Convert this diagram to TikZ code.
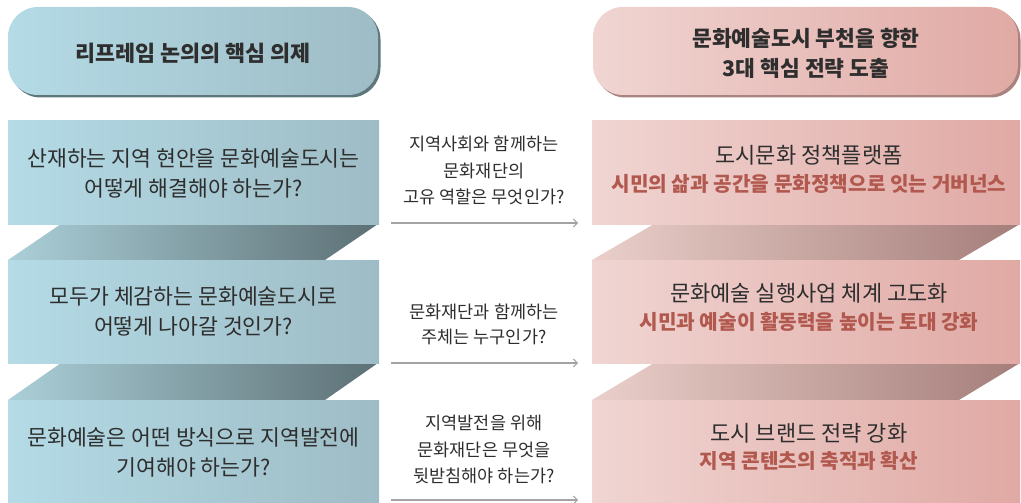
\documentclass[tikz,border=0pt]{standalone}
\usepackage{fontspec}
\setmainfont{Noto Sans CJK KR}
\usetikzlibrary{arrows.meta}
\definecolor{bL}{HTML}{B4DBE6}
\definecolor{bR}{HTML}{9EBCC5}
\definecolor{bfL}{HTML}{ABCFD8}
\definecolor{bfR}{HTML}{5C7075}
\definecolor{bsh}{HTML}{5E767C}
\definecolor{pL}{HTML}{F0D5D2}
\definecolor{pR}{HTML}{E0A9A4}
\definecolor{pfL}{HTML}{EACFCA}
\definecolor{pfR}{HTML}{A57E7A}
\definecolor{psh}{HTML}{A8837F}
\definecolor{txt}{HTML}{2E2E2E}
\definecolor{redtxt}{HTML}{B2594F}
\definecolor{arr}{HTML}{A3A3A3}
\begin{document}
\begin{tikzpicture}[x=1pt,y=-1pt,
  lbox/.style={rectangle,inner sep=0pt,minimum width=371pt,minimum height=104pt,left color=bL,right color=bR},
  rbox/.style={rectangle,inner sep=0pt,minimum width=428pt,minimum height=104pt,left color=pL,right color=pR},
  bigtxt/.style={align=center,text=txt,font=\fontsize{21.6}{30}\selectfont},
  midtxt/.style={align=center,text=txt,font=\fontsize{17.5}{26.7}\selectfont},
  redline/.style={text=redtxt,font=\fontsize{20.2}{28}\selectfont\bfseries},
  blkline/.style={text=txt,font=\fontsize{22}{28}\selectfont},
  flow/.style={draw=arr,line width=1.3pt,-{Straight Barb[length=4pt,width=8pt,line width=1pt]}}
]
\useasboundingbox (0,0) rectangle (1021,503);

% headers
\fill[bsh,rounded corners=30pt] (10.5,9.5) rectangle (380.5,97.5);
\node[rectangle,rounded corners=30pt,inner sep=0pt,minimum width=370pt,minimum height=88pt,left color=bL,right color=bR] (hl) at (193,51) {};
\node[text=txt,font=\fontsize{21.8}{30}\selectfont\bfseries] (hlt) at (193,53) {리프레임 논의의 핵심 의제};

\fill[psh,rounded corners=30pt] (595.5,9.5) rectangle (1020.5,97.5);
\node[rectangle,rounded corners=30pt,inner sep=0pt,minimum width=425pt,minimum height=88pt,left color=pL,right color=pR] (hr) at (805.5,51) {};
\node[align=center,text=txt,font=\fontsize{21.5}{30}\selectfont\bfseries] (hrt) at (806,53) {문화예술도시 부천을 향한\\3대 핵심 전략 도출};

% folds
\shade[left color=bfL,right color=bfR] (61,224) -- (378,224) -- (325,260) -- (8,260) -- cycle;
\shade[left color=bfL,right color=bfR] (61,363) -- (378,363) -- (325,400) -- (8,400) -- cycle;
\shade[left color=pfL,right color=pfR] (654,224) -- (1020,224) -- (959,260) -- (592,260) -- cycle;
\shade[left color=pfL,right color=pfR] (654,363) -- (1020,363) -- (959,400) -- (592,400) -- cycle;

% left boxes
\node[lbox] (l1) at (193.5,172) {};
\node[lbox,minimum height=103pt] (l2) at (193.5,311.5) {};
\node[lbox,minimum height=103pt] (l3) at (193.5,451.5) {};
\node[bigtxt] (l1t) at (193.5,173) {산재하는 지역 현안을 문화예술도시는\\어떻게 해결해야 하는가?};
\node[bigtxt] (l2t) at (193.5,311.5) {모두가 체감하는 문화예술도시로\\어떻게 나아갈 것인가?};
\node[bigtxt] (l3t) at (193.5,452) {문화예술은 어떤 방식으로 지역발전에\\기여해야 하는가?};

% right boxes
\node[rbox] (r1) at (806,172) {};
\node[rbox,minimum height=103pt] (r2) at (806,311.5) {};
\node[rbox,minimum height=103pt] (r3) at (806,451.5) {};
\node[blkline] (r1a) at (809,155) {도시문화 정책플랫폼};
\node[redline] (r1b) at (809,184) {시민의 삶과 공간을 문화정책으로 잇는 거버넌스};
\node[blkline] (r2a) at (809,293) {문화예술 실행사업 체계 고도화};
\node[redline] (r2b) at (809,322) {시민과 예술이 활동력을 높이는 토대 강화};
\node[blkline] (r3a) at (809,433) {도시 브랜드 전략 강화};
\node[redline] (r3b) at (809,461) {지역 콘텐츠의 축적과 확산};

% middle questions
\node[midtxt] (m1) at (484,170.5) {지역사회와 함께하는\\문화재단의\\고유 역할은 무엇인가?};
\node[midtxt,font=\fontsize{17.5}{25.5}\selectfont] (m2) at (484,324.5) {문화재단과 함께하는\\주체는 누구인가?};
\node[midtxt] (m3) at (484,449.5) {지역발전을 위해\\문화재단은 무엇을\\뒷받침해야 하는가?};

% arrows
\coordinate (a1s) at (391,223);
\coordinate (a1e) at (578,223);
\coordinate (a2s) at (391,363);
\coordinate (a2e) at (578,363);
\coordinate (a3s) at (391,500);
\coordinate (a3e) at (578,500);
\draw[flow] (a1s) -- (a1e);
\draw[flow] (a2s) -- (a2e);
\draw[flow] (a3s) -- (a3e);
\end{tikzpicture}
\end{document}
